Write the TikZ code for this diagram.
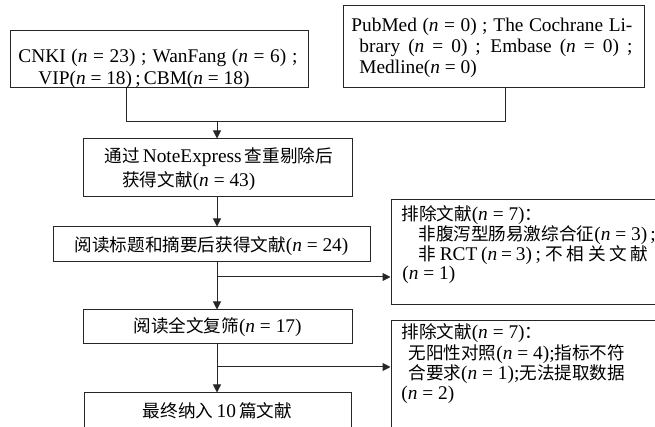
\documentclass[tikz,border=0pt]{standalone}
\usepackage{fontspec}
\setmainfont{Liberation Serif}[Scale=1.1]
\newfontfamily\cjk{Noto Sans CJK SC}
\newcommand\zh[1]{{\cjk #1}}
\newcommand\nv{\textit{n}}
\usetikzlibrary{arrows.meta}
\begin{document}
\begin{tikzpicture}[x=0.5pt,y=-0.5pt,
  box/.style={draw=black!85,line width=0.5pt,rectangle,inner sep=0pt},
  txt/.style={anchor=base west,inner sep=0pt,font=\fontsize{8.8pt}{10pt}\selectfont},
  ctxt/.style={anchor=base,inner sep=0pt,font=\fontsize{8.8pt}{10pt}\selectfont},
  line/.style={draw=black!85,line width=0.5pt},
  arr/.style={line,-{Triangle[length=4pt,width=4pt]}}]
\useasboundingbox (0,0) rectangle (655,427);
\clip (0,0) rectangle (655,427);
\fill[white] (0,0) rectangle (655,427);
% boxes
\node[box,minimum width=149pt,minimum height=28.5pt] (b1) at (159,59.5) {};
\node[box,minimum width=150.5pt,minimum height=41pt] (b2) at (493.5,47) {};
\node[box,minimum width=134.5pt,minimum height=29pt] (b3) at (217.5,168) {};
\node[box,minimum width=158.5pt,minimum height=17.5pt] (b4) at (211.5,244.5) {};
\node[box,minimum width=134.5pt,minimum height=17pt] (b5) at (217.5,327) {};
\node[box,minimum width=133.5pt,minimum height=33.5pt] (b6) at (217.5,426.5) {};
\node[box,minimum width=144.5pt,minimum height=52.5pt] (rA) at (535.5,252.5) {};
\node[box,minimum width=144.5pt,minimum height=69.5pt] (rB) at (535.5,390.5) {};
% texts
\node[txt] (t1a) at (18,63) {\makebox[139.5pt][s]{CNKI (\nv{} = 23) ; WanFang (\nv{} = 6) ;}};
\node[txt] (t1b) at (38,85) {VIP(\nv{} = 18)\,;\,CBM(\nv{} = 18)};
\node[txt] (t2a) at (351,32) {\makebox[140.5pt][s]{PubMed (\nv{} = 0) ; The Cochrane Li-}};
\node[txt] (t2b) at (359,53) {\makebox[136.5pt][s]{brary (\nv{} = 0) ; Embase (\nv{} = 0) ;}};
\node[txt] (t2c) at (359,74) {Medline(\nv{} = 0)};
\node[txt] (t3a) at (104,163) {\zh{通过}\,NoteExpress\,\zh{查重剔除后}};
\node[txt] (t3b) at (122,187) {\zh{获得文献}(\nv{} = 43)};
\node[ctxt] (t4) at (211.5,252) {\zh{阅读标题和摘要后获得文献}(\nv{} = 24)};
\node[ctxt] (t5) at (217.5,333) {\zh{阅读全文复筛}(\nv{} = 17)};
\node[ctxt] (t6) at (217.5,418) {\zh{最终纳入}\,10\,\zh{篇文献}};
\node[txt] (ra1) at (401,221) {\zh{排除文献}(\nv{} = 7)\zh{：}};
\node[txt] (ra2) at (418,241) {\zh{非腹泻型肠易激综合征}(\nv{} = 3)\,;};
\node[txt] (ra3) at (418,261) {\makebox[115pt][s]{\zh{非} RCT (\nv{} = 3) ; \zh{不} \zh{相} \zh{关} \zh{文} \zh{献}}};
\node[txt] (ra4) at (402,280) {(\nv{} = 1)};
\node[txt] (rb1) at (401,339) {\zh{排除文献}(\nv{} = 7)\zh{：}};
\node[txt] (rb2) at (408,360) {\zh{无阳性对照}(\nv{} = 4);\zh{指标不符}};
\node[txt] (rb3) at (408,380) {\zh{合要求}(\nv{} = 1);\zh{无法提取数据}};
\node[txt] (rb4) at (401,400) {(\nv{} = 2)};
% connectors
\coordinate (j1) at (126,122);
\coordinate (j2) at (505,122);
\coordinate (j3) at (217,122);
\coordinate (k1) at (217,277);
\coordinate (k2) at (217,367);
\draw[line] (b1.south -| j1) -- (j1) -- (j2) -- (b2.south -| j2);
\draw[arr] (j3) -- (j3 |- b3.north);
\draw[arr] (b3.south -| j3) -- (j3 |- b4.north);
\draw[arr] (b4.south -| j3) -- (j3 |- b5.north);
\draw[arr] (k1) -- (k1 -| rA.west);
\draw[arr] (b5.south -| j3) -- (j3 |- b6.north);
\draw[arr] (k2) -- (k2 -| rB.west);
\end{tikzpicture}
\end{document}
